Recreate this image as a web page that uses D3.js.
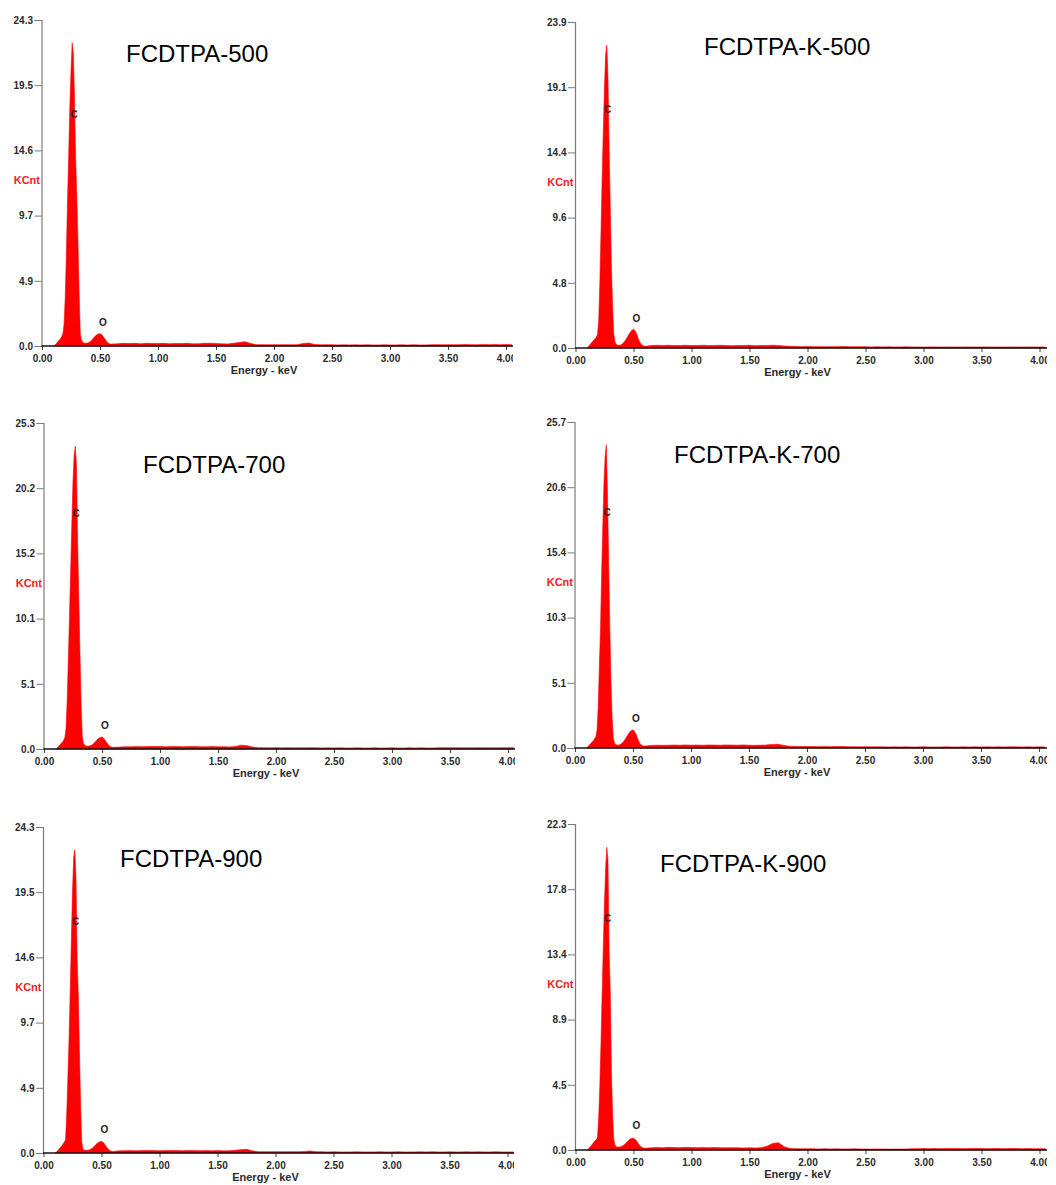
<!DOCTYPE html>
<html>
<head>
<meta charset="utf-8">
<script src="https://cdn.jsdelivr.net/npm/d3@7"></script>
<style>
  html, body { margin: 0; padding: 0; background: #fff; }
  svg { display: block; }
  .tick text { font-family: "Liberation Sans", Arial, sans-serif; font-weight: bold; font-size: 10px; fill: #2a2a2a; }
</style>
</head>
<body>
<svg id="chart" width="1056" height="1185"></svg>
<script>
// Channel energies (keV): fine channels across the C / O peaks, coarser across the tail
const peakEnergy = [
  0.10, 0.11, 0.12, 0.13, 0.14, 0.15, 0.16, 0.17, 0.18, 0.19,
  0.20, 0.21, 0.22, 0.23, 0.24, 0.25, 0.26, 0.27, 0.28, 0.29,
  0.30, 0.31, 0.32, 0.33, 0.34, 0.35, 0.36, 0.37, 0.38, 0.39,
  0.40, 0.41, 0.42, 0.43, 0.44, 0.45, 0.46, 0.47, 0.48, 0.49,
  0.50, 0.51, 0.52, 0.53, 0.54, 0.55, 0.56, 0.57, 0.58, 0.59,
  0.60
];
const tailEnergy = [
  0.65, 0.70, 0.75, 0.80, 0.85, 0.90, 0.95, 1.00, 1.05, 1.10,
  1.15, 1.20, 1.25, 1.30, 1.35, 1.40, 1.45, 1.50, 1.55, 1.60,
  1.65, 1.70, 1.75, 1.80, 1.85, 1.90, 1.95, 2.00, 2.05, 2.10,
  2.15, 2.20, 2.25, 2.30, 2.35, 2.40, 2.45, 2.50, 2.55, 2.60,
  2.65, 2.70, 2.75, 2.80, 2.85, 2.90, 2.95, 3.00, 3.05, 3.10,
  3.15, 3.20, 3.25, 3.30, 3.35, 3.40, 3.45, 3.50, 3.55, 3.60,
  3.65, 3.70, 3.75, 3.80, 3.85, 3.90, 3.95, 4.00, 4.05
];

const sampleNames = ["FCDTPA-500", "FCDTPA-K-500", "FCDTPA-700", "FCDTPA-K-700", "FCDTPA-900", "FCDTPA-K-900"];
const yMaxKCnt = [24.3, 23.9, 25.3, 25.7, 24.3, 22.3];
const yTickLabels = [
  ["0.0", "4.9", "9.7", "14.6", "19.5", "24.3"],
  ["0.0", "4.8", "9.6", "14.4", "19.1", "23.9"],
  ["0.0", "5.1", "10.1", "15.2", "20.2", "25.3"],
  ["0.0", "5.1", "10.3", "15.4", "20.6", "25.7"],
  ["0.0", "4.9", "9.7", "14.6", "19.5", "24.3"],
  ["0.0", "4.5", "8.9", "13.4", "17.8", "22.3"]
];
const xTickValues = [0, 0.5, 1.0, 1.5, 2.0, 2.5, 3.0, 3.5, 4.0];
const xTickLabels = ["0.00", "0.50", "1.00", "1.50", "2.00", "2.50", "3.00", "3.50", "4.00"];

// Counts (KCnt) per sample: peak channels followed by tail channels
const peak500 = [
  0, 0.05, 0.15, 0.25, 0.35, 0.45, 0.55, 0.7, 0.9, 1.6,
  3.5, 6.8, 10.8, 14.2, 17.8, 20.5, 22.6, 21.8, 18.5, 14.0,
  11.2, 7.8, 4.0, 0.9, 0.45, 0.3, 0.22, 0.2, 0.2, 0.22,
  0.25, 0.3, 0.35, 0.45, 0.55, 0.65, 0.75, 0.82, 0.88, 0.9,
  0.92, 0.88, 0.8, 0.68, 0.55, 0.42, 0.3, 0.22, 0.17, 0.15,
  0.14
];
const tail500 = [
  0.16, 0.20, 0.18, 0.20, 0.17, 0.20, 0.19, 0.18, 0.20, 0.17,
  0.19, 0.18, 0.20, 0.16, 0.17, 0.20, 0.21, 0.19, 0.16, 0.15,
  0.20, 0.26, 0.32, 0.18, 0.10, 0.10, 0.09, 0.10, 0.09, 0.10,
  0.09, 0.10, 0.18, 0.22, 0.12, 0.09, 0.10, 0.09, 0.08, 0.09,
  0.08, 0.09, 0.08, 0.09, 0.08, 0.08, 0.09, 0.08, 0.08, 0.09,
  0.08, 0.09, 0.08, 0.08, 0.09, 0.10, 0.09, 0.10, 0.09, 0.10,
  0.11, 0.10, 0.09, 0.11, 0.10, 0.12, 0.10, 0.11, 0.10
];
const peakK500 = [
  0, 0.1, 0.2, 0.3, 0.4, 0.5, 0.6, 0.7, 0.8, 1.0,
  2.0, 4.8, 8.6, 12.6, 16.0, 19.2, 21.5, 22.2, 19.8, 14.5,
  10.2, 5.8, 3.0, 1.0, 0.45, 0.3, 0.22, 0.2, 0.2, 0.22,
  0.28, 0.35, 0.45, 0.55, 0.7, 0.85, 1.0, 1.12, 1.25, 1.32,
  1.38, 1.3, 1.15, 0.95, 0.72, 0.5, 0.35, 0.25, 0.18, 0.14,
  0.12
];
const tailK500 = [
  0.18, 0.20, 0.19, 0.20, 0.18, 0.19, 0.20, 0.18, 0.19, 0.20,
  0.18, 0.19, 0.20, 0.18, 0.17, 0.19, 0.18, 0.20, 0.17, 0.18,
  0.19, 0.20, 0.19, 0.15, 0.12, 0.11, 0.10, 0.11, 0.10, 0.10,
  0.09, 0.10, 0.10, 0.11, 0.10, 0.09, 0.10, 0.09, 0.08, 0.09,
  0.08, 0.09, 0.08, 0.08, 0.09, 0.08, 0.08, 0.07, 0.08, 0.08,
  0.07, 0.08, 0.08, 0.07, 0.08, 0.08, 0.07, 0.08, 0.08, 0.07,
  0.08, 0.07, 0.08, 0.08, 0.07, 0.08, 0.07, 0.08, 0.07
];
const peak700 = [
  0, 0.05, 0.15, 0.25, 0.35, 0.45, 0.55, 0.7, 0.9, 1.6,
  3.8, 7.0, 10.4, 13.9, 17.5, 20.8, 22.8, 23.5, 22.0, 16.0,
  11.8, 7.4, 3.5, 0.9, 0.45, 0.3, 0.25, 0.22, 0.22, 0.24,
  0.26, 0.3, 0.36, 0.45, 0.55, 0.65, 0.75, 0.82, 0.88, 0.92,
  0.93, 0.88, 0.78, 0.65, 0.5, 0.38, 0.27, 0.2, 0.16, 0.14,
  0.13
];
const tail700 = [
  0.15, 0.18, 0.17, 0.19, 0.18, 0.20, 0.19, 0.20, 0.18, 0.19,
  0.20, 0.18, 0.19, 0.20, 0.17, 0.18, 0.19, 0.17, 0.18, 0.16,
  0.20, 0.30, 0.26, 0.15, 0.10, 0.10, 0.09, 0.10, 0.09, 0.10,
  0.09, 0.10, 0.09, 0.10, 0.09, 0.08, 0.09, 0.08, 0.09, 0.08,
  0.08, 0.09, 0.08, 0.08, 0.09, 0.08, 0.08, 0.09, 0.08, 0.08,
  0.09, 0.08, 0.09, 0.08, 0.08, 0.09, 0.10, 0.09, 0.10, 0.09,
  0.10, 0.09, 0.10, 0.09, 0.10, 0.09, 0.10, 0.09, 0.10
];
const peakK700 = [
  0, 0.1, 0.2, 0.3, 0.4, 0.5, 0.6, 0.75, 0.9, 1.4,
  3.2, 6.5, 9.4, 13.9, 17.6, 21.0, 23.0, 23.9, 20.0, 14.8,
  9.5, 5.2, 2.4, 0.8, 0.4, 0.28, 0.24, 0.22, 0.24, 0.28,
  0.34, 0.42, 0.52, 0.65, 0.8, 0.95, 1.1, 1.22, 1.32, 1.4,
  1.42, 1.35, 1.2, 1.0, 0.75, 0.52, 0.36, 0.26, 0.2, 0.16,
  0.15
];
const tailK700 = [
  0.20, 0.22, 0.21, 0.22, 0.23, 0.22, 0.24, 0.22, 0.23, 0.22,
  0.24, 0.23, 0.22, 0.24, 0.23, 0.22, 0.24, 0.22, 0.21, 0.22,
  0.24, 0.28, 0.30, 0.20, 0.14, 0.12, 0.11, 0.12, 0.11, 0.10,
  0.11, 0.10, 0.11, 0.12, 0.10, 0.10, 0.09, 0.10, 0.09, 0.09,
  0.09, 0.08, 0.09, 0.08, 0.09, 0.08, 0.08, 0.09, 0.08, 0.08,
  0.08, 0.09, 0.08, 0.08, 0.09, 0.08, 0.09, 0.08, 0.09, 0.08,
  0.09, 0.08, 0.09, 0.09, 0.08, 0.09, 0.08, 0.09, 0.08
];
const peak900 = [
  0, 0.05, 0.15, 0.25, 0.35, 0.45, 0.55, 0.7, 0.8, 1.0,
  2.8, 5.6, 8.4, 12.0, 15.8, 19.5, 22.0, 22.6, 20.6, 14.5,
  11.8, 7.5, 3.5, 0.8, 0.3, 0.22, 0.2, 0.2, 0.2, 0.22,
  0.25, 0.3, 0.35, 0.43, 0.52, 0.62, 0.7, 0.77, 0.82, 0.85,
  0.86, 0.82, 0.74, 0.62, 0.5, 0.38, 0.28, 0.2, 0.15, 0.13,
  0.12
];
const tail900 = [
  0.16, 0.17, 0.18, 0.17, 0.18, 0.19, 0.18, 0.17, 0.18, 0.19,
  0.18, 0.17, 0.19, 0.18, 0.17, 0.18, 0.17, 0.18, 0.16, 0.17,
  0.20, 0.25, 0.28, 0.16, 0.10, 0.10, 0.09, 0.10, 0.10, 0.09,
  0.10, 0.09, 0.12, 0.15, 0.10, 0.09, 0.08, 0.09, 0.08, 0.08,
  0.08, 0.09, 0.08, 0.08, 0.08, 0.09, 0.08, 0.08, 0.09, 0.08,
  0.08, 0.08, 0.09, 0.08, 0.09, 0.08, 0.08, 0.09, 0.08, 0.08,
  0.09, 0.08, 0.09, 0.08, 0.08, 0.09, 0.08, 0.08, 0.08
];
const peakK900 = [
  0, 0.05, 0.15, 0.25, 0.35, 0.45, 0.55, 0.65, 0.7, 0.9,
  2.2, 4.5, 7.4, 10.8, 14.0, 17.0, 19.3, 20.7, 19.8, 13.5,
  10.8, 5.2, 2.4, 0.7, 0.35, 0.22, 0.2, 0.2, 0.2, 0.22,
  0.25, 0.3, 0.36, 0.44, 0.52, 0.6, 0.68, 0.74, 0.78, 0.8,
  0.8, 0.76, 0.68, 0.58, 0.46, 0.35, 0.26, 0.2, 0.15, 0.13,
  0.12
];
const tailK900 = [
  0.15, 0.17, 0.16, 0.18, 0.17, 0.16, 0.18, 0.17, 0.16, 0.17,
  0.16, 0.17, 0.16, 0.15, 0.16, 0.15, 0.14, 0.15, 0.14, 0.16,
  0.26, 0.45, 0.50, 0.22, 0.10, 0.09, 0.08, 0.08, 0.08, 0.07,
  0.08, 0.07, 0.08, 0.07, 0.07, 0.08, 0.07, 0.07, 0.06, 0.07,
  0.07, 0.06, 0.07, 0.06, 0.07, 0.08, 0.09, 0.10, 0.09, 0.10,
  0.09, 0.10, 0.11, 0.10, 0.09, 0.10, 0.11, 0.10, 0.09, 0.10,
  0.10, 0.09, 0.10, 0.10, 0.09, 0.10, 0.08, 0.09, 0.09
];

// Element line markers: energy (keV) and label height (KCnt) per sample
const elementSymbols = ["C", "O"];
const elementEnergy = [0.277, 0.525];
const cLabelKCnt = [17.0, 17.2, 18.0, 18.3, 17.0, 15.6];
const oLabelKCnt = [1.49, 1.9, 1.53, 2.03, 1.47, 1.42];

const peakSeries = [peak500, peakK500, peak700, peakK700, peak900, peakK900];
const tailSeries = [tail500, tailK500, tail700, tailK700, tail900, tailK900];

// Panel placement on the page
const panels = [
  { x0: 42,    top: 20,  clipR: 513,  tx: 126, ty: 62 },
  { x0: 575.5, top: 22,  clipR: 1047, tx: 704, ty: 55 },
  { x0: 44,    top: 423, clipR: 515,  tx: 143, ty: 473 },
  { x0: 575,   top: 422, clipR: 1047, tx: 674, ty: 463 },
  { x0: 43.5,  top: 827, clipR: 514,  tx: 120, ty: 867 },
  { x0: 575.5, top: 824, clipR: 1047, tx: 660, ty: 872 }
];
const plotH = 326;
const pxPerKeV = 116;
const energies = peakEnergy.concat(tailEnergy);

const svg = d3.select("#chart");

panels.forEach((p, i) => {
  const bottom = p.top + plotH;
  const x = d3.scaleLinear().domain([0, 4.0]).range([p.x0, p.x0 + 4.0 * pxPerKeV]);
  const y = d3.scaleLinear().domain([0, yMaxKCnt[i]]).range([bottom, p.top]);

  const clipId = "clip" + i;
  svg.append("clipPath").attr("id", clipId)
    .append("rect").attr("x", 0).attr("y", p.top - 30)
    .attr("width", p.clipR).attr("height", plotH + 80);

  const g = svg.append("g").attr("clip-path", "url(#" + clipId + ")");

  // spectrum
  const counts = peakSeries[i].concat(tailSeries[i]);
  const data = energies.map((e, k) => ({ e: e, v: counts[k] }));
  const area = d3.area()
    .x(d => x(d.e))
    .y0(y(0))
    .y1(d => y(d.v));
  g.append("path").datum(data)
    .attr("d", area)
    .attr("fill", "#ff0000")
    .attr("stroke", "#ff0000")
    .attr("stroke-width", 0.6);

  // y axis
  const yTicks = yTickLabels[i].map((_, k) => yMaxKCnt[i] * k / 5);
  const yAxis = d3.axisLeft(y)
    .tickValues(yTicks)
    .tickFormat((d, k) => yTickLabels[i][k])
    .tickSize(7)
    .tickPadding(1.5);
  const ya = g.append("g").attr("transform", `translate(${p.x0 - 0.5},0)`).call(yAxis);
  ya.select(".domain").attr("stroke", "#7a7a7a").attr("stroke-width", 1.2);
  ya.selectAll(".tick line").attr("stroke", "#7a7a7a");

  // x axis
  const xAxis = d3.axisBottom(x)
    .tickValues(xTickValues)
    .tickFormat((d, k) => xTickLabels[k])
    .tickSize(4)
    .tickPadding(5);
  const xa = g.append("g").attr("transform", `translate(0,${bottom})`).call(xAxis);
  xa.select(".domain").remove();
  xa.selectAll(".tick line").attr("stroke", "#444");
  g.append("line")
    .attr("x1", p.x0 - 0.5).attr("x2", p.clipR)
    .attr("y1", bottom).attr("y2", bottom)
    .attr("stroke", "#111").attr("stroke-width", 1.6);

  // axis captions
  g.append("text")
    .attr("x", p.x0 + 222).attr("y", bottom + 28)
    .attr("text-anchor", "middle")
    .style("font-family", "'Liberation Sans', Arial, sans-serif")
    .style("font-weight", "bold").style("font-size", "11px").style("fill", "#2a2a2a")
    .text("Energy - keV");
  g.append("text")
    .attr("x", p.x0 - 2).attr("y", p.top + 164)
    .attr("text-anchor", "end")
    .style("font-family", "'Liberation Sans', Arial, sans-serif")
    .style("font-weight", "bold").style("font-size", "11px").style("fill", "#ee2222")
    .text("KCnt");

  // element labels
  const labelKCnt = [cLabelKCnt[i], oLabelKCnt[i]];
  elementSymbols.forEach((sym, k) => {
    g.append("text")
      .attr("x", x(elementEnergy[k])).attr("y", y(labelKCnt[k]))
      .attr("text-anchor", "middle")
      .style("font-family", "'Liberation Sans', Arial, sans-serif")
      .style("font-weight", "bold").style("font-size", "10px").style("fill", "#222")
      .text(sym);
  });

  // sample title
  svg.append("text")
    .attr("x", p.tx).attr("y", p.ty)
    .style("font-family", "'Liberation Sans', Arial, sans-serif")
    .style("font-size", "24px").style("fill", "#000")
    .text(sampleNames[i]);
});
</script>
</body>
</html>
